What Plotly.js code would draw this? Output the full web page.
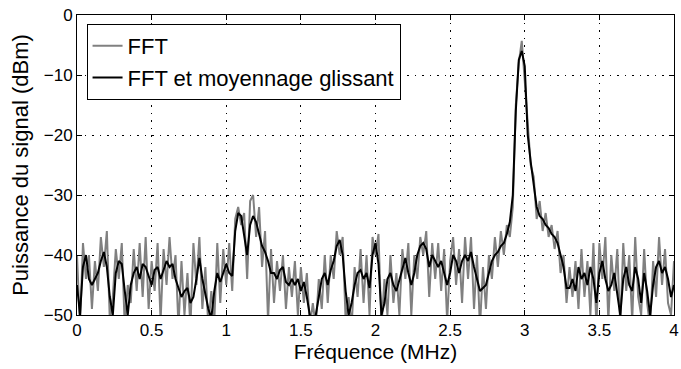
<!DOCTYPE html>
<html>
<head>
<meta charset="utf-8">
<script src="https://cdn.plot.ly/plotly-3.0.1.min.js"></script>
<style>html,body{margin:0;padding:0;background:#fff;}#chart{width:681px;height:369px;}</style>
</head>
<body>
<div id="chart"></div>
<script>
// Frequency step (MHz) between consecutive samples, starting at 0 MHz
const freqStep = 0.02;

// Raw FFT (dBm)
const fftRaw = [
-40,-52,-38,-44,-40,-49,-41,-46,-37,-42,
-36,-51,-47,-39,-44,-38,-52,-45,-48,-39,
-46,-38,-47,-37,-49,-41,-46,-38,-51,-39,
-45,-37,-44,-40,-52,-41,-50,-43,-52,-38,
-45,-37,-49,-42,-52,-46,-51,-38,-48,-39,
-45,-38,-46,-34,-32,-35,-33,-44,-31,-30,
-37,-32,-42,-36,-51,-39,-48,-41,-46,-40,
-49,-42,-47,-41,-50,-42,-48,-43,-52,-48,
-52,-44,-49,-40,-48,-40,-44,-36,-40,-37,
-51,-47,-52,-42,-47,-39,-48,-40,-50,-37,
-40,-36.5,-52,-44,-50,-40,-48,-43,-50,-39,
-44,-38,-50,-40,-44,-37,-40,-36,-47,-38,
-44,-38,-46,-39,-51,-41,-37,-45,-39,-48,
-37,-44,-37,-49,-40,-52,-42,-49,-40,-44,
-37,-42,-36,-40,-35,-37,-32,-15,-8,-4.3,
-11,-19,-25,-27,-34,-31,-36,-33,-37,-35,
-39,-36,-43,-40,-48,-42,-47,-41,-49,-39,
-47,-41,-50,-38,-52,-38,-44,-37,-51,-40,
-46,-39,-52,-38,-46,-40,-51,-37,-47,-50,
-39,-48,-52,-41,-47,-37,-45,-39,-48,-50,
-41
];

// FFT with sliding average (dBm)
const fftSmooth = [
-45,-50,-42,-40,-44,-45,-44,-43,-41,-39.5,
-42,-47,-50,-43,-41,-41.5,-46,-50,-45,-43,
-42,-44,-41.5,-42,-43.5,-45,-42.5,-42,-44,-42.5,
-41,-42,-41.5,-44,-45.5,-47,-46,-45.5,-48,-47,
-44,-40.5,-44,-46.5,-49,-50.5,-46,-43,-44.5,-43,
-41.5,-43,-43.5,-36,-33,-33.5,-37,-40,-35,-33.5,
-34.5,-36.5,-38.5,-39.5,-41,-43,-43,-44,-42.5,-42,
-44.5,-45,-44,-45,-44,-46,-44.5,-47,-50,-51,
-50,-47,-44,-43,-45,-42.5,-41,-38.5,-37.5,-40,
-46,-50,-48,-45,-43,-42.5,-44,-43,-45.5,-40,
-38,-41.5,-50,-48,-44,-43,-45,-46,-44,-42,
-40.5,-43,-45,-43,-40,-38.5,-38,-39,-42,-40,
-41,-42,-41,-43,-45,-43,-40,-41,-43,-41,
-40,-41,-39.5,-42,-44,-46,-45.5,-45,-43,-41,
-40,-39.5,-38.5,-38,-36.5,-34.5,-30,-16,-7.5,-6,
-8.5,-20,-24.5,-28.5,-32,-33.5,-34,-35,-35.5,-36.5,
-37,-38,-40,-42,-45.5,-45.5,-44,-46,-42,-44,
-43,-45,-42,-44,-48,-43,-41,-44,-46,-45,
-43,-47,-50,-44,-42,-45,-46,-42,-44,-48,
-43,-46,-50,-45,-42,-41,-43,-42,-44,-47,
-45
];

const xTickVals = [0, 0.5, 1, 1.5, 2, 2.5, 3, 3.5, 4];
const xTickText = ['0', '0.5', '1', '1.5', '2', '2.5', '3', '3.5', '4'];
const yTickVals = [-50, -40, -30, -20, -10, 0];
const yTickText = ['\u221250', '\u221240', '\u221230', '\u221220', '\u221210', '0'];

const freqRaw = fftRaw.map((_, i) => +(i * freqStep).toFixed(4));
const freqSmooth = fftSmooth.map((_, i) => +(i * freqStep).toFixed(4));

const FONT = 'Liberation Sans, Arial, Helvetica, sans-serif';

const traces = [
  {x: freqRaw, y: fftRaw, type: 'scatter', mode: 'lines', name: 'FFT',
   line: {color: '#808080', width: 2}},
  {x: freqSmooth, y: fftSmooth, type: 'scatter', mode: 'lines', name: 'FFT et moyennage glissant',
   line: {color: '#000000', width: 2}}
];

const axisCommon = {
  showline: true, linecolor: '#000', linewidth: 1, mirror: 'ticks',
  ticks: 'inside', ticklen: 5, tickcolor: '#000', tickwidth: 1,
  showgrid: true, gridcolor: '#000', gridwidth: 1, griddash: '1.5px,6px',
  zeroline: false, ticklabeloverflow: 'allow',
  tickfont: {family: FONT, size: 17, color: '#000'}
};

const layout = {
  width: 681, height: 369,
  margin: {l: 77, r: 7, t: 15, b: 54},
  paper_bgcolor: '#fff', plot_bgcolor: '#fff',
  font: {family: FONT, size: 17, color: '#000'},
  xaxis: Object.assign({}, axisCommon, {
    range: [0, 4], tickvals: xTickVals, ticktext: xTickText,
    title: {text: 'Fréquence (MHz)', font: {family: FONT, size: 21, color: '#000'}, standoff: 2}
  }),
  yaxis: Object.assign({}, axisCommon, {
    range: [-50, 0], tickvals: yTickVals, ticktext: yTickText,
    title: {text: 'Puissance du signal (dBm)', font: {family: FONT, size: 22, color: '#000'}, standoff: 9}
  }),
  showlegend: true,
  legend: {
    x: 0.016, y: 0.97, xanchor: 'left', yanchor: 'top',
    bgcolor: '#fff', bordercolor: '#000', borderwidth: 1,
    font: {family: FONT, size: 22, color: '#000'},
    tracegroupgap: 0
  }
};

Plotly.newPlot('chart', traces, layout, {displayModeBar: false, staticPlot: true});
</script>
</body>
</html>
